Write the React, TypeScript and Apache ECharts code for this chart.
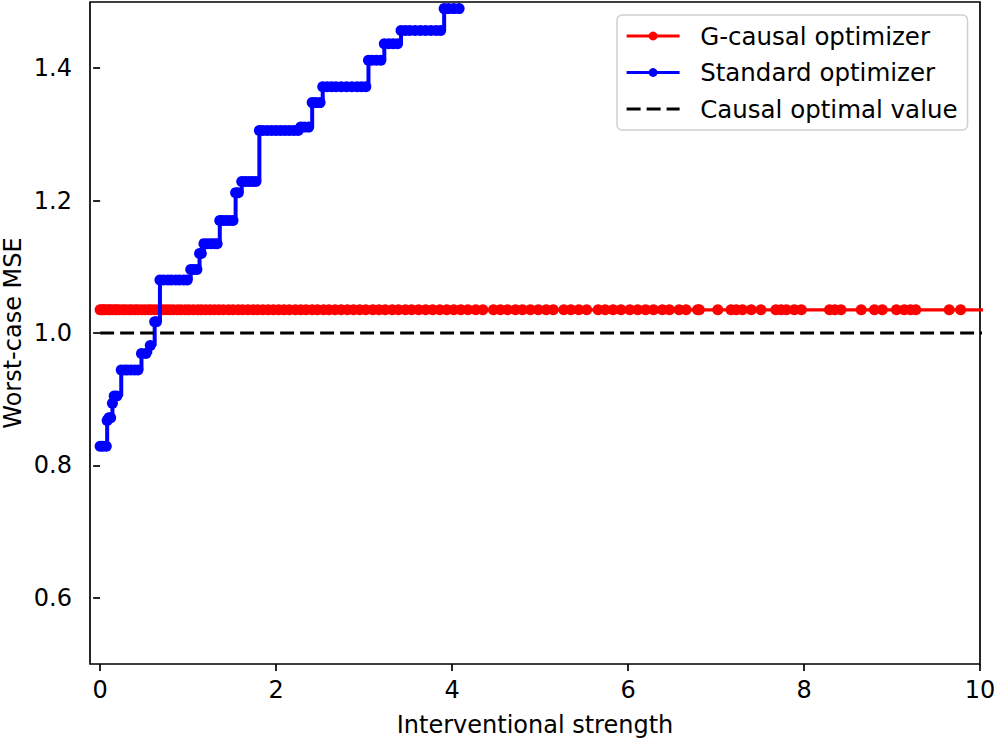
import React, { useEffect, useRef } from 'react';
import * as echarts from 'echarts';

const xTicks = [0, 2, 4, 6, 8, 10];
const yTicks = [0.6, 0.8, 1.0, 1.2, 1.4];

// G-causal optimizer: x positions of the points, constant level
const redX = [
  0.0, 0.02, 0.04, 0.06, 0.09, 0.11, 0.14, 0.17, 0.19, 0.22, 0.26, 0.29, 0.33, 0.36, 0.4, 0.43,
  0.47, 0.51, 0.55, 0.58, 0.62, 0.66, 0.71, 0.75, 0.79, 0.83, 0.88, 0.92, 0.97, 1.01, 1.06, 1.11,
  1.15, 1.2, 1.25, 1.3, 1.35, 1.4, 1.46, 1.51, 1.57, 1.62, 1.68, 1.74, 1.79, 1.85, 1.91, 1.97,
  2.03, 2.09, 2.15, 2.22, 2.28, 2.34, 2.41, 2.47, 2.54, 2.6, 2.67, 2.74, 2.81, 2.88, 2.95, 3.02,
  3.1, 3.17, 3.24, 3.32, 3.39, 3.47, 3.54, 3.62, 3.7, 3.78, 3.86, 3.94, 4.02, 4.1, 4.18, 4.27,
  4.35, 4.47, 4.55, 4.63, 4.72, 4.8, 4.89, 4.98, 5.07, 5.15, 5.27, 5.35, 5.44, 5.53, 5.66, 5.74,
  5.83, 5.92, 6.02, 6.11, 6.2, 6.29, 6.39, 6.47, 6.58, 6.66, 6.79, 6.81, 7.02, 7.17, 7.23, 7.3,
  7.4, 7.51, 7.68, 7.74, 7.8, 7.89, 7.97, 8.29, 8.35, 8.42, 8.65, 8.8, 8.89, 9.05, 9.14, 9.21,
  9.27, 9.65, 9.78, 10.4,
];
const redLevel = 1.035;

// Standard optimizer
const blueX = [
  0.0, 0.03, 0.07, 0.08, 0.1, 0.12, 0.14, 0.16, 0.19, 0.24, 0.28, 0.31, 0.35, 0.39, 0.43,
  0.47, 0.52, 0.57, 0.62, 0.64, 0.68, 0.72, 0.77, 0.81, 0.86, 0.9, 0.95, 0.99, 1.03, 1.06, 1.1,
  1.13, 1.15, 1.18, 1.22, 1.26, 1.3, 1.33, 1.36, 1.39, 1.43, 1.47, 1.51, 1.54, 1.57, 1.61, 1.65,
  1.69, 1.73, 1.77, 1.81, 1.85, 1.9, 1.95, 2.0, 2.05, 2.1, 2.15, 2.2, 2.25, 2.28, 2.32, 2.37,
  2.41, 2.45, 2.5, 2.53, 2.58, 2.63, 2.68, 2.74, 2.8, 2.86, 2.92, 2.97, 3.02, 3.05, 3.09, 3.14,
  3.19, 3.23, 3.28, 3.33, 3.38, 3.42, 3.47, 3.52, 3.58, 3.64, 3.7, 3.76, 3.82, 3.87, 3.91, 3.96,
  4.02, 4.08,
];
const blueY = [
  0.829, 0.829, 0.829, 0.868, 0.872, 0.872, 0.894, 0.905, 0.905, 0.944, 0.944, 0.944, 0.944, 0.944, 0.944,
  0.969, 0.969, 0.981, 1.017, 1.017, 1.08, 1.08, 1.08, 1.08, 1.08, 1.08, 1.08, 1.08, 1.096, 1.096, 1.096,
  1.12, 1.12, 1.135, 1.135, 1.135, 1.135, 1.135, 1.17, 1.17, 1.17, 1.17, 1.17, 1.212, 1.212, 1.229, 1.229,
  1.229, 1.229, 1.229, 1.306, 1.306, 1.306, 1.306, 1.306, 1.306, 1.306, 1.306, 1.306, 1.306, 1.311, 1.311, 1.311,
  1.348, 1.348, 1.348, 1.372, 1.372, 1.372, 1.372, 1.372, 1.372, 1.372, 1.372, 1.372, 1.372, 1.412, 1.412, 1.412,
  1.412, 1.437, 1.437, 1.437, 1.437, 1.457, 1.457, 1.457, 1.457, 1.457, 1.457, 1.457, 1.457, 1.457, 1.49, 1.49,
  1.49, 1.49,
];

// Causal optimal value
const causalX = [0, 10.5];
const causalY = [1.0, 1.0];

const FONT = 'DejaVu Sans';

export default function App() {
  const ref = useRef<HTMLDivElement>(null);
  useEffect(() => {
    const chart = echarts.init(ref.current!, null, { renderer: 'svg' });
    chart.setOption({
      animation: false,
      backgroundColor: '#ffffff',
      textStyle: { fontFamily: FONT },
      grid: {
        left: 90,
        right: 17,
        top: 2,
        bottom: 78,
        show: true,
        borderColor: '#000',
        borderWidth: 1.7,
        backgroundColor: 'transparent',
        containLabel: false,
        outerBoundsMode: 'none',
      },
      legend: {
        left: 617,
        top: 15,
        orient: 'vertical',
        padding: [7, 10, 7, 8],
        itemGap: 8.5,
        itemWidth: 53,
        itemHeight: 11,
        backgroundColor: 'rgba(255,255,255,0.85)',
        borderColor: '#d0d0d0',
        borderWidth: 1.5,
        borderRadius: 5,
        formatter: (n: string) => '  ' + n,
        textStyle: { fontFamily: FONT, fontSize: 24.5, lineHeight: 28, color: '#000' },
        data: [
          { name: 'G-causal optimizer', lineStyle: { width: 3.2 } },
          { name: 'Standard optimizer', lineStyle: { width: 3.2 } },
          { name: 'Causal optimal value', lineStyle: { width: 3.2 }, itemStyle: { opacity: 0 } },
        ],
      },
      xAxis: {
        type: 'value',
        min: -0.115,
        max: 10,
        name: 'Interventional strength',
        nameLocation: 'middle',
        nameGap: 49,
        nameMoveOverlap: false,
        nameTextStyle: { fontFamily: FONT, fontSize: 24, color: '#000' },
        axisLine: { show: false },
        axisTick: { show: true, inside: false, length: 7, lineStyle: { color: '#000', width: 1.7 }, customValues: xTicks },
        axisLabel: {
          show: true,
          margin: 14,
          fontFamily: FONT,
          fontSize: 24,
          color: '#000',
          customValues: xTicks,
          formatter: (v: number) => String(v),
        },
        splitLine: { show: false },
      },
      yAxis: {
        type: 'value',
        min: 0.5,
        max: 1.5,
        name: 'Worst-case MSE',
        nameLocation: 'middle',
        nameGap: 65,
        nameRotate: 90,
        nameMoveOverlap: false,
        nameTextStyle: { fontFamily: FONT, fontSize: 24, color: '#000' },
        axisLine: { show: false },
        axisTick: { show: true, inside: false, length: 7, lineStyle: { color: '#000', width: 1.7 }, customValues: yTicks },
        axisLabel: {
          show: true,
          margin: 18,
          fontFamily: FONT,
          fontSize: 24,
          color: '#000',
          customValues: yTicks,
          formatter: (v: number) => v.toFixed(1),
        },
        splitLine: { show: false },
      },
      series: [
        {
          name: 'G-causal optimizer',
          type: 'line',
          data: redX.map((x) => [x, redLevel]),
          symbol: 'circle',
          symbolSize: 11,
          showSymbol: true,
          showAllSymbol: true,
          color: '#ff0000',
          itemStyle: { color: '#ff0000' },
          lineStyle: { color: '#ff0000', width: 3.4 },
          clip: true,
          z: 2,
        },
        {
          name: 'Standard optimizer',
          type: 'line',
          step: 'end',
          data: blueX.map((x, i) => [x, blueY[i]]),
          symbol: 'circle',
          symbolSize: 11,
          showSymbol: true,
          showAllSymbol: true,
          color: '#0000ff',
          itemStyle: { color: '#0000ff' },
          lineStyle: { color: '#0000ff', width: 4 },
          clip: true,
          z: 3,
        },
        {
          name: 'Causal optimal value',
          type: 'line',
          data: causalX.map((x, i) => [x, causalY[i]]),
          symbol: 'none',
          showSymbol: false,
          color: '#000',
          lineStyle: { color: '#000', width: 3, type: [14, 6] },
          clip: true,
          z: 4,
        },
      ],
    });
    return () => chart.dispose();
  }, []);
  return (
    <div
      ref={ref}
      style={{ position: 'absolute', left: 0, top: 0, width: 997, height: 742, background: '#fff' }}
    />
  );
}
